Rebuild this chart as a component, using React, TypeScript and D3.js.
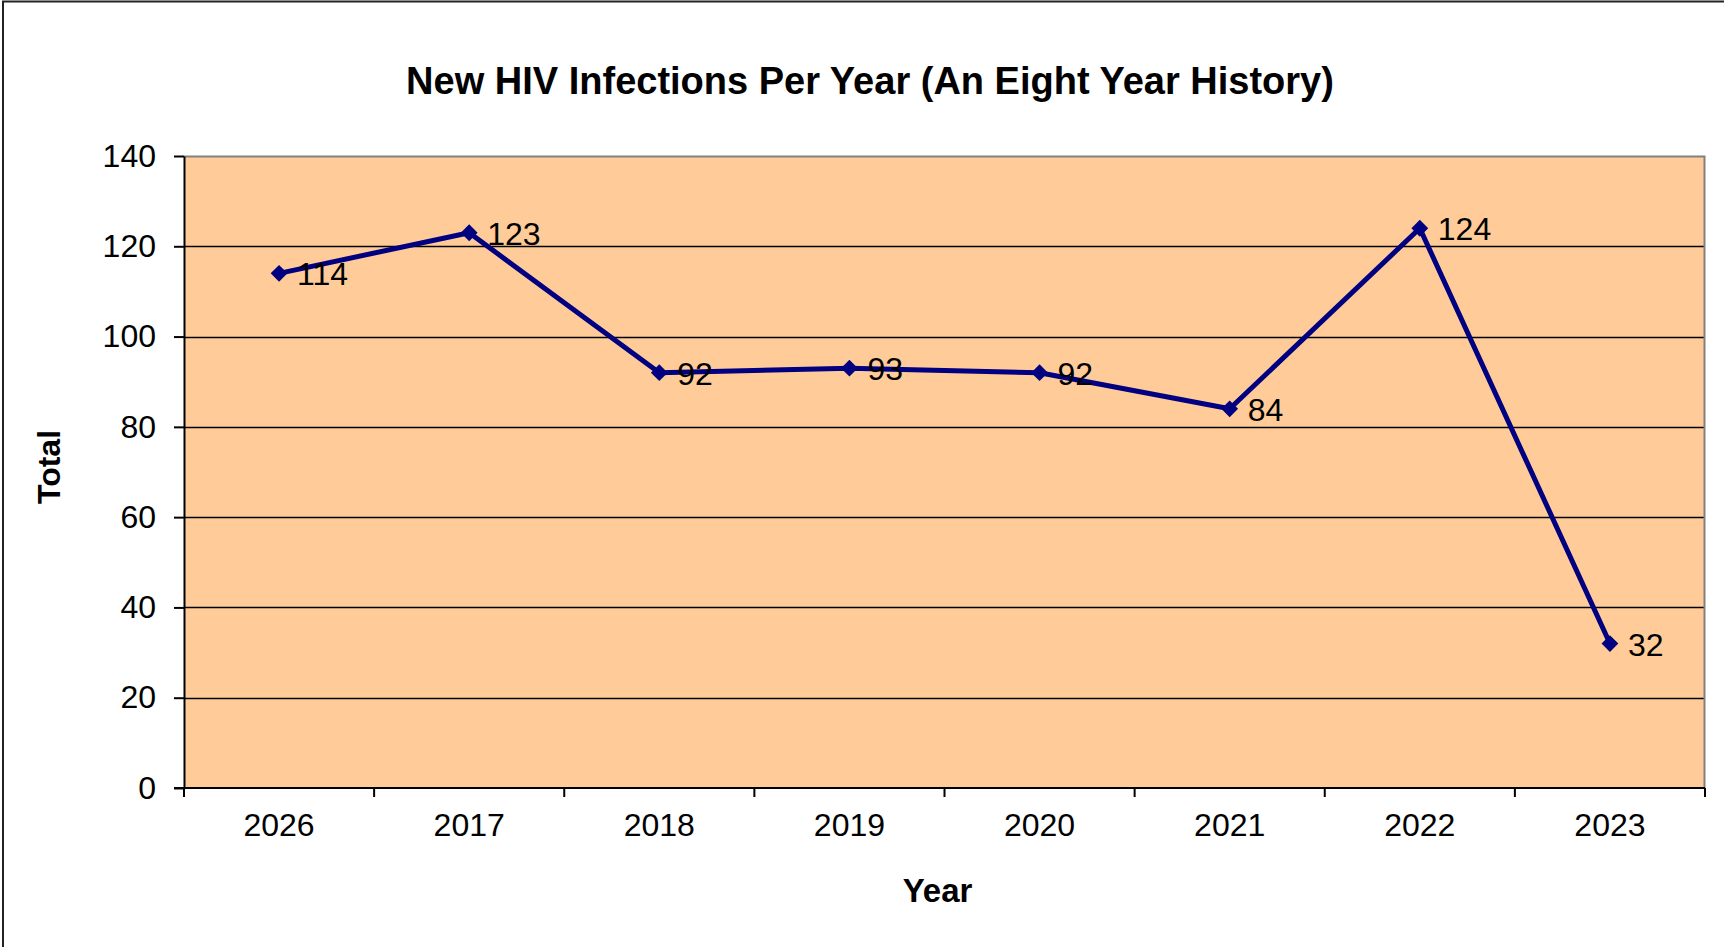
import { useEffect, useRef } from 'react';
import * as d3 from 'd3';

const years = ['2026', '2017', '2018', '2019', '2020', '2021', '2022', '2023'];
const totals = [114, 123, 92, 93, 92, 84, 124, 32];
const yTicks = [0, 20, 40, 60, 80, 100, 120, 140];

const W = 1724;
const H = 947;
const FONT = "'Liberation Sans', Arial, sans-serif";

export default function App() {
  const svgRef = useRef<SVGSVGElement>(null);

  useEffect(() => {
    if (!svgRef.current) return;
    const svg = d3.select(svgRef.current);
    svg.selectAll('*').remove();

    const plot = { left: 184, top: 156, right: 1705, bottom: 788 };
    const pw = plot.right - plot.left;
    const ph = plot.bottom - plot.top;

    // outer chart frame (runs off the page on the right and bottom)
    svg.append('rect')
      .attr('x', 3).attr('y', 1.5)
      .attr('width', W + 20).attr('height', H + 20)
      .attr('fill', '#fff')
      .attr('stroke', '#222').attr('stroke-width', 2);

    const g = svg.append('g').attr('transform', `translate(${plot.left},${plot.top})`);

    const x = d3.scaleBand().domain(years).range([0, pw]).padding(0);
    const y = d3.scaleLinear().domain([0, 140]).range([ph, 0]);

    // plot background
    g.append('rect')
      .attr('width', pw).attr('height', ph)
      .attr('fill', '#FFCC99');

    // gridlines
    g.selectAll('.grid')
      .data(yTicks.filter(t => t > 0 && t < 140))
      .enter()
      .append('line')
      .attr('x1', 0).attr('x2', pw)
      .attr('y1', d => Math.round(y(d)) + 0.5).attr('y2', d => Math.round(y(d)) + 0.5)
      .attr('stroke', '#000').attr('stroke-width', 1.5);

    // top and right border in gray
    g.append('path')
      .attr('d', `M0,0.5H${pw - 0.5}V${ph}`)
      .attr('fill', 'none').attr('stroke', '#808080').attr('stroke-width', 2);

    // y axis
    const yAxis = g.append('g').call(
      d3.axisLeft(y).tickValues(yTicks).tickSize(10).tickPadding(18).tickSizeOuter(0)
    );
    yAxis.select('.domain').attr('stroke', '#000').attr('stroke-width', 2);
    yAxis.selectAll('.tick line').attr('stroke', '#000').attr('stroke-width', 2);
    yAxis.selectAll('.tick text')
      .attr('font-family', FONT).attr('font-size', 32).attr('fill', '#000');

    // x axis: ticks at category boundaries
    const xAxis = g.append('g').attr('transform', `translate(0,${ph})`);
    xAxis.append('line')
      .attr('x1', -10).attr('x2', pw)
      .attr('stroke', '#000').attr('stroke-width', 2);
    const edges = years.map(d => x(d) ?? 0).concat([pw]);
    xAxis.selectAll('.xtick')
      .data(edges)
      .enter()
      .append('line')
      .attr('x1', d => d).attr('x2', d => d)
      .attr('y1', 0).attr('y2', 9)
      .attr('stroke', '#000').attr('stroke-width', 2);
    xAxis.selectAll('.xlabel')
      .data(years)
      .enter()
      .append('text')
      .attr('x', d => (x(d) ?? 0) + x.bandwidth() / 2)
      .attr('y', 48)
      .attr('text-anchor', 'middle')
      .attr('font-family', FONT).attr('font-size', 32).attr('fill', '#000')
      .text(d => d);

    // series line
    const pts = years.map((yr, i) => ({ yr, v: totals[i] }));
    const line = d3.line<{ yr: string; v: number }>()
      .x(d => (x(d.yr) ?? 0) + x.bandwidth() / 2)
      .y(d => y(d.v));
    g.append('path')
      .datum(pts)
      .attr('d', line)
      .attr('fill', 'none')
      .attr('stroke', '#000080')
      .attr('stroke-width', 5)
      .attr('stroke-linejoin', 'round');

    // diamond markers
    g.selectAll('.marker')
      .data(pts)
      .enter()
      .append('path')
      .attr('d', d3.symbol(d3.symbolDiamond2, 180)())
      .attr('transform', d => `translate(${(x(d.yr) ?? 0) + x.bandwidth() / 2},${y(d.v)})`)
      .attr('fill', '#000080');

    // data labels
    g.selectAll('.value-label')
      .data(pts)
      .enter()
      .append('text')
      .attr('x', d => (x(d.yr) ?? 0) + x.bandwidth() / 2 + 18)
      .attr('y', d => y(d.v) + 12)
      .attr('font-family', FONT).attr('font-size', 32).attr('fill', '#000')
      .text(d => String(d.v));

    // titles
    svg.append('text')
      .attr('x', 870).attr('y', 94)
      .attr('text-anchor', 'middle')
      .attr('font-family', FONT).attr('font-size', 38).attr('font-weight', 'bold')
      .text('New HIV Infections Per Year (An Eight Year History)');

    svg.append('text')
      .attr('x', plot.left + pw / 2 - 7).attr('y', 902)
      .attr('text-anchor', 'middle')
      .attr('font-family', FONT).attr('font-size', 33).attr('font-weight', 'bold')
      .text('Year');

    svg.append('text')
      .attr('transform', `translate(60,${plot.top + ph / 2 - 5}) rotate(-90)`)
      .attr('text-anchor', 'middle')
      .attr('font-family', FONT).attr('font-size', 32).attr('font-weight', 'bold')
      .text('Total');
  }, []);

  return (
    <div style={{ position: 'absolute', left: 0, top: 0, width: W, height: H, overflow: 'hidden' }}>
      <svg ref={svgRef} width={W} height={H}></svg>
    </div>
  );
}
